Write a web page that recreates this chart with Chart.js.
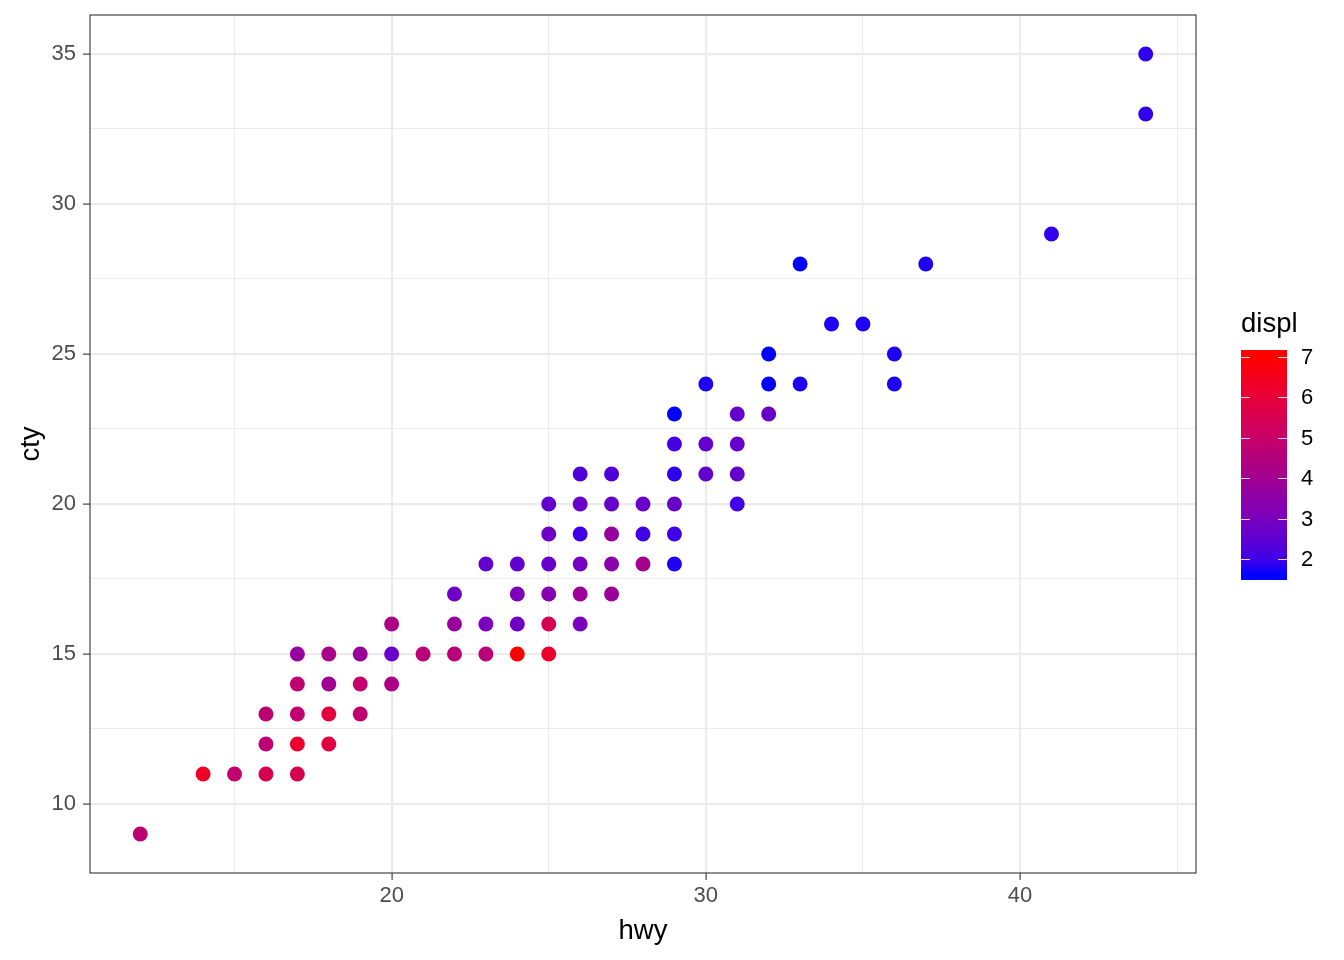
<!DOCTYPE html>
<html>
<head>
<meta charset="utf-8">
<script src="https://cdn.jsdelivr.net/npm/chart.js@4/dist/chart.umd.min.js"></script>
<style>
  html, body { margin: 0; padding: 0; background: #fff; }
  #wrap { width: 1344px; height: 960px; position: relative; }
</style>
</head>
<body>
<div id="wrap"><canvas id="myChart" width="1344" height="960"></canvas></div>
<script>
// one point per visible (hwy, cty) spot, displ
var hwy = [12,
  14, 15, 16, 17,
  16, 17, 18,
  16, 17, 18, 19,
  17, 18, 19, 20,
  17, 18, 19, 20, 21, 22, 23, 24, 25,
  20, 22, 23, 24, 25, 26,
  22, 24, 25, 26, 27,
  23, 24, 25, 26, 27, 28, 29,
  25, 26, 27, 28, 29,
  25, 26, 27, 28, 29, 31,
  26, 27, 29, 30, 31,
  29, 30, 31,
  29, 31, 32,
  30, 32, 33, 36,
  32, 36,
  34, 35,
  33, 37,
  41, 44, 44];
var cty = [9,
  11, 11, 11, 11,
  12, 12, 12,
  13, 13, 13, 13,
  14, 14, 14, 14,
  15, 15, 15, 15, 15, 15, 15, 15, 15,
  16, 16, 16, 16, 16, 16,
  17, 17, 17, 17, 17,
  18, 18, 18, 18, 18, 18, 18,
  19, 19, 19, 19, 19,
  20, 20, 20, 20, 20, 20,
  21, 21, 21, 21, 21,
  22, 22, 22,
  23, 23, 23,
  24, 24, 24, 24,
  25, 25,
  26, 26,
  28, 28,
  29, 33, 35];
var displ = [4.7,
  6.3, 4.8, 5.5, 5.5,
  4.7, 6.2, 5.8,
  4.7, 4.8, 5.9, 4.8,
  4.8, 4.0, 4.9, 4.3,
  3.7, 4.2, 3.8, 2.7, 4.6, 4.6, 4.6, 7.0, 6.2,
  4.3, 3.8, 3.0, 2.8, 5.4, 3.0,
  2.8, 3.1, 3.3, 3.9, 3.9,
  2.6, 2.6, 2.7, 2.9, 3.4, 4.1, 1.8,
  2.8, 2.0, 3.7, 2.0, 2.0,
  2.6, 2.7, 2.7, 2.7, 2.7, 2.0,
  2.3, 2.3, 1.9, 2.6, 2.6,
  2.1, 2.6, 2.6,
  1.6, 2.6, 2.7,
  1.8, 1.6, 1.8, 1.8,
  1.6, 1.8,
  1.8, 1.8,
  1.6, 1.8,
  1.9, 1.9, 1.9];

var xTicks = [15, 20, 25, 30, 35, 40, 45];
var xLabels = [20, 30, 40];
var yTicks = [10, 12.5, 15, 17.5, 20, 22.5, 25, 27.5, 30, 32.5, 35];
var yLabels = [10, 15, 20, 25, 30, 35];
var legendTicks = [2, 3, 4, 5, 6, 7];

// blue -> red colour ramp, stops matched to the reference colourbar
var rampAt = [1.6, 2.0, 3.0, 4.0, 5.0, 6.0, 7.0];
var rampRgb = [[0, 0, 255], [64, 0, 230], [122, 0, 190], [160, 0, 145], [200, 0, 104], [230, 0, 56], [255, 0, 0]];
function displColor(v) {
  if (v <= rampAt[0]) v = rampAt[0];
  if (v >= rampAt[rampAt.length - 1]) v = rampAt[rampAt.length - 1];
  var k = 0;
  while (k < rampAt.length - 2 && v > rampAt[k + 1]) k++;
  var t = (v - rampAt[k]) / (rampAt[k + 1] - rampAt[k]);
  var a = rampRgb[k], b = rampRgb[k + 1];
  return 'rgb(' + Math.round(a[0] + t * (b[0] - a[0])) + ',' + Math.round(a[1] + t * (b[1] - a[1])) + ',' + Math.round(a[2] + t * (b[2] - a[2])) + ')';
}

var points = [];
for (var i = 0; i < hwy.length; i++) points.push({x: hwy[i], y: cty[i]});
var colors = displ.map(displColor);

var FONT = "'Liberation Sans', Arial, sans-serif";

var panelAndLegend = {
  id: 'panelAndLegend',
  afterDraw: function(chart) {
    var c = chart.ctx, a = chart.chartArea;
    c.save();
    c.strokeStyle = '#333333';
    c.lineWidth = 1.1;
    c.strokeRect(a.left, a.top, a.right - a.left, a.bottom - a.top);

    // colourbar
    var bx = 1241, bw = 46, yTop = 350, yBot = 580;
    function yOf(v) { return 357 + (7 - v) * 40.4; }
    for (var py = yTop; py < yBot; py++) {
      var v = 7 - (py + 0.5 - 357) / 40.4;
      c.fillStyle = displColor(v);
      c.fillRect(bx, py, bw, 1);
    }
    c.strokeStyle = 'rgba(255,255,255,0.85)';
    c.lineWidth = 1.1;
    c.fillStyle = '#000';
    c.font = '22px ' + FONT;
    c.textBaseline = 'middle';
    c.textAlign = 'left';
    legendTicks.forEach(function(t) {
      var y = Math.round(yOf(t)) + 0.5;
      c.beginPath();
      c.moveTo(bx, y); c.lineTo(bx + 9, y);
      c.moveTo(bx + bw - 9, y); c.lineTo(bx + bw, y);
      c.stroke();
      c.fillText(String(t), 1301, yOf(t) + 1);
    });
    c.font = '27.5px ' + FONT;
    c.textBaseline = 'alphabetic';
    c.fillText('displ', 1241, 332);
    c.restore();
  }
};

new Chart(document.getElementById('myChart').getContext('2d'), {
  type: 'scatter',
  data: {
    datasets: [{
      label: 'mpg',
      data: points,
      pointBackgroundColor: colors,
      pointBorderWidth: 0,
      pointRadius: 7.5,
      pointHoverRadius: 7.5
    }]
  },
  options: {
    responsive: false,
    animation: false,
    layout: { padding: { top: 15, right: 148, left: 0, bottom: 0 } },
    plugins: { legend: { display: false }, tooltip: { enabled: false } },
    scales: {
      x: {
        type: 'linear', min: 10.4, max: 45.6,
        afterBuildTicks: function(s) { s.ticks = xTicks.map(function(v) { return {value: v}; }); },
        afterFit: function(s) { s.height = 87; s.paddingLeft = 0; s.paddingRight = 0; },
        ticks: {
          autoSkip: false, maxRotation: 0, padding: 3,
          color: '#4d4d4d', font: { family: FONT, size: 22 },
          callback: function(v) { return xLabels.indexOf(v) >= 0 ? String(v) : ''; }
        },
        grid: {
          color: '#ebebeb',
          lineWidth: function(ctx) { return ctx.tick && xLabels.indexOf(ctx.tick.value) >= 0 ? 2.2 : 1.1; },
          tickColor: function(ctx) { return ctx.tick && xLabels.indexOf(ctx.tick.value) >= 0 ? '#333333' : 'rgba(0,0,0,0)'; },
          tickLength: 7, tickWidth: 1.1, drawTicks: true
        },
        border: { display: false },
        title: { display: true, text: 'hwy', color: '#000', font: { family: FONT, size: 27.5 }, padding: { top: 0, bottom: 12 } }
      },
      y: {
        type: 'linear', min: 7.7, max: 36.3,
        afterBuildTicks: function(s) { s.ticks = yTicks.map(function(v) { return {value: v}; }); },
        afterFit: function(s) { s.width = 90; s.paddingTop = 0; s.paddingBottom = 0; },
        ticks: {
          autoSkip: false, padding: 7,
          color: '#4d4d4d', font: { family: FONT, size: 22 },
          callback: function(v) { return yLabels.indexOf(v) >= 0 ? String(v) : ''; }
        },
        grid: {
          color: '#ebebeb',
          lineWidth: function(ctx) { return ctx.tick && yLabels.indexOf(ctx.tick.value) >= 0 ? 2.2 : 1.1; },
          tickColor: function(ctx) { return ctx.tick && yLabels.indexOf(ctx.tick.value) >= 0 ? '#333333' : 'rgba(0,0,0,0)'; },
          tickLength: 7, tickWidth: 1.1, drawTicks: true
        },
        border: { display: false },
        title: { display: true, text: 'cty', color: '#000', font: { family: FONT, size: 27.5 }, padding: { top: 15, bottom: 0 } }
      }
    }
  },
  plugins: [panelAndLegend]
});
</script>
</body>
</html>
